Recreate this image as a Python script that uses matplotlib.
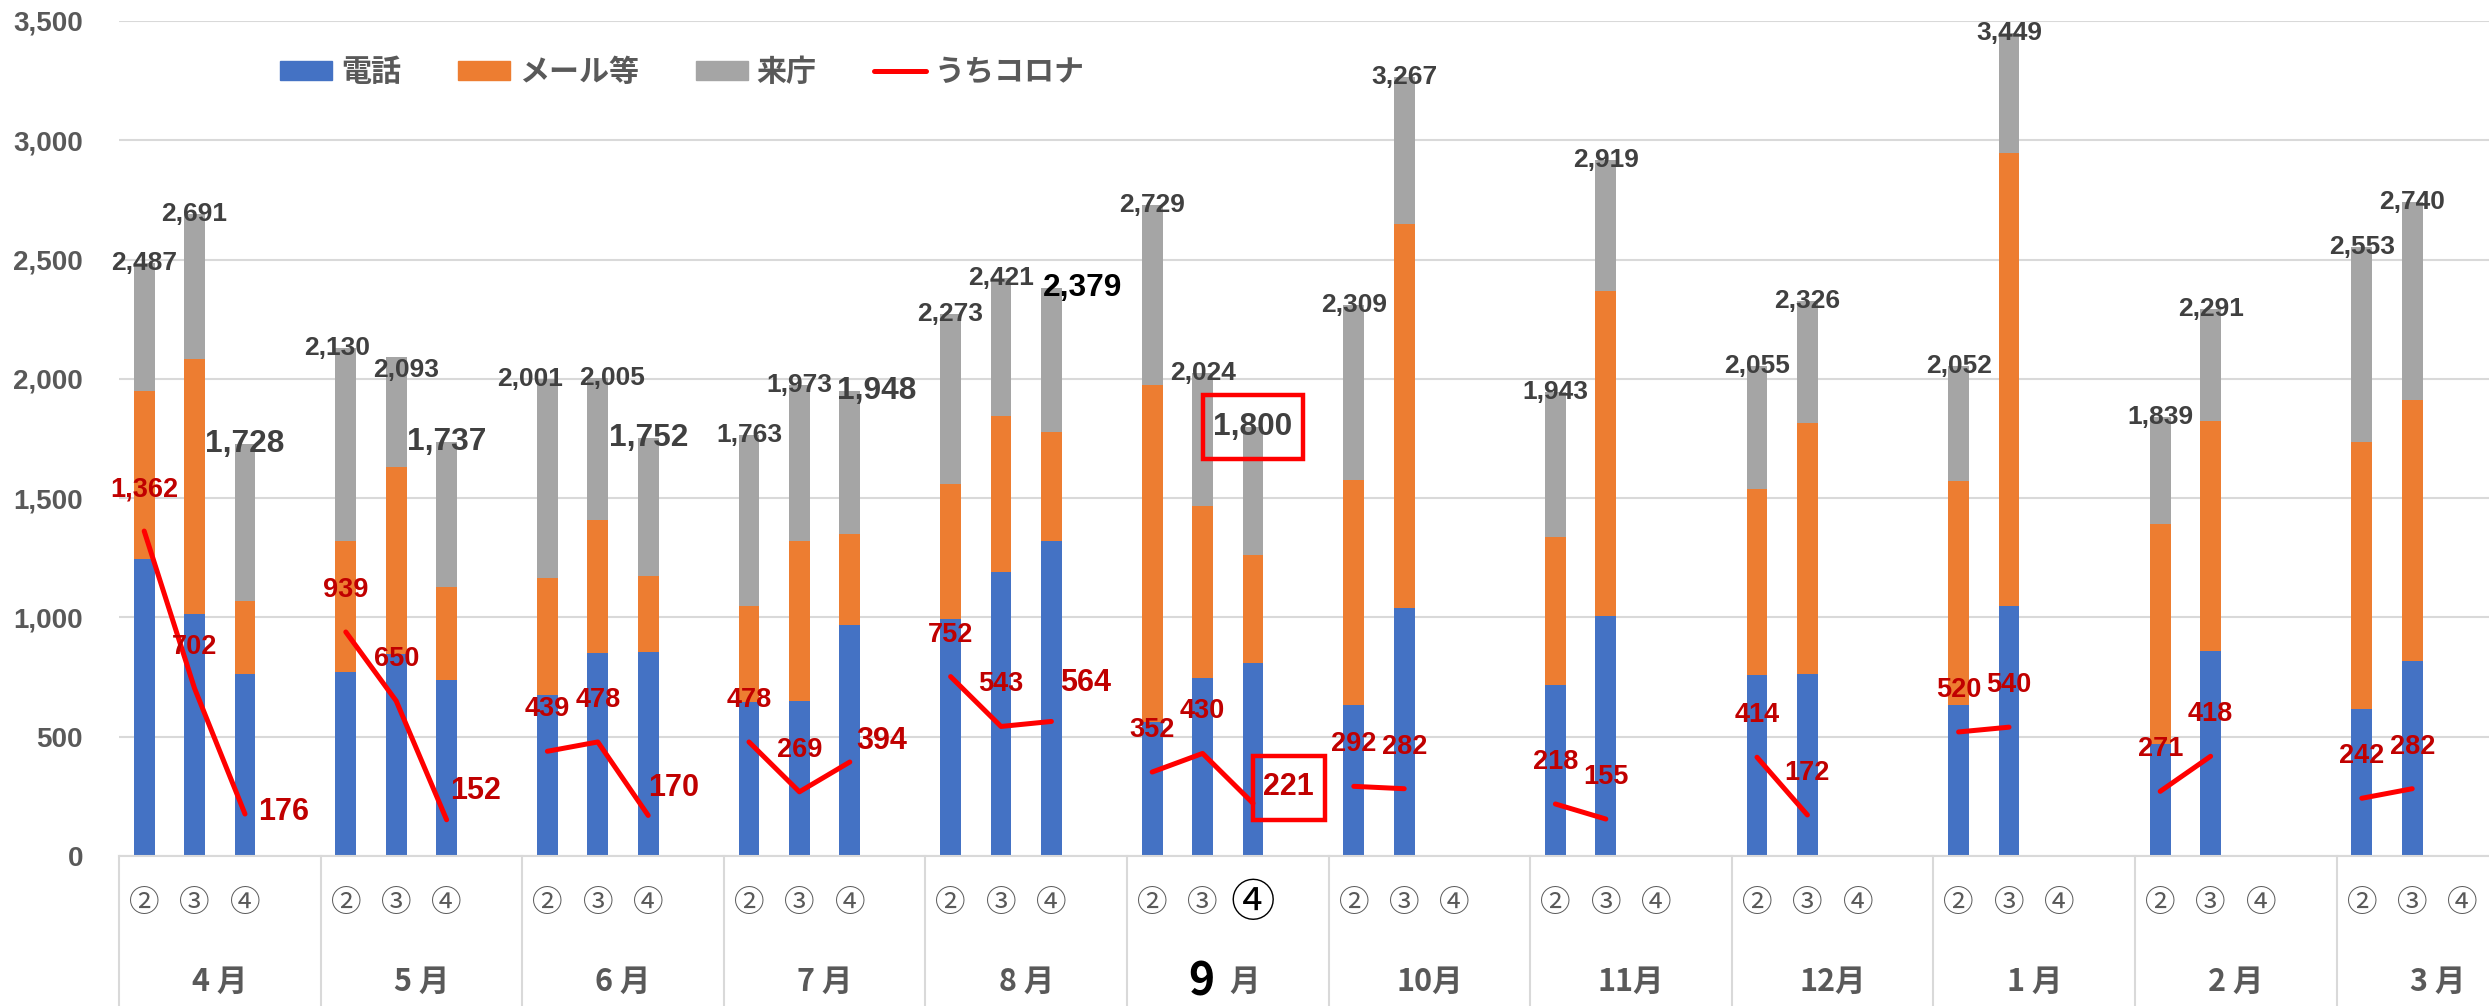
import matplotlib
matplotlib.use("Agg")
import matplotlib.pyplot as plt
import matplotlib.transforms as mtransforms
from matplotlib.patches import Rectangle
from matplotlib.lines import Line2D
from matplotlib.patches import Patch
from matplotlib.ticker import FuncFormatter
import numpy as np

plt.rcParams['font.family'] = ['Liberation Sans', 'Noto Sans CJK JP', 'DejaVu Sans']
JP = ['Noto Sans CJK JP', 'DejaVu Sans']

months = ['4 月', '5 月', '6 月', '7 月', '8 月', '9 月', '10月', '11月', '12月', '1 月', '2 月', '3 月']
subs = ['②', '③', '④']
nan = np.nan

# values per month for ② ③ ④ (nan = no data)
phone = [1245, 1013, 762,  773, 847, 737,  673, 849, 853,  645, 650, 968,
         994, 1189, 1319,  562, 748, 807,  632, 1039, nan,  715, 1004, nan,
         757, 764, nan,  633, 1046, nan,  470, 859, nan,  618, 818, nan]
mail = [706, 1069, 308,  547, 785, 390,  491, 560, 319,  405, 670, 382,
        564, 657, 459,  1413, 718, 453,  946, 1611, nan,  622, 1363, nan,
        782, 1052, nan,  940, 1902, nan,  922, 964, nan,  1119, 1095, nan]
visit = [536, 609, 658,  810, 461, 610,  837, 596, 580,  713, 653, 598,
         715, 575, 601,  754, 558, 540,  731, 617, nan,  606, 552, nan,
         516, 510, nan,  479, 501, nan,  447, 468, nan,  816, 827, nan]
corona = [1362, 702, 176,  939, 650, 152,  439, 478, 170,  478, 269, 394,
          752, 543, 564,  352, 430, 221,  292, 282, nan,  218, 155, nan,
          414, 172, nan,  520, 540, nan,  271, 418, nan,  242, 282, nan]

phone = np.array(phone, float)
mail = np.array(mail, float)
visit = np.array(visit, float)
corona = np.array(corona, float)
total = phone + mail + visit

# x slot: each month has 4 slots (② ③ ④ + empty)
idx = np.arange(36)
xs = (idx // 3) * 4 + (idx % 3)

fig = plt.figure(figsize=(24.89, 10.06), dpi=100)
ax = fig.add_axes([119 / 2489, 150 / 1006, 1 - 119 / 2489, 835 / 1006])

c_blue, c_orange, c_gray = '#4472C4', '#ED7D31', '#A5A5A5'
w = 0.41
ax.bar(xs, phone, w, color=c_blue, zorder=2)
ax.bar(xs, mail, w, bottom=phone, color=c_orange, zorder=2)
ax.bar(xs, visit, w, bottom=phone + mail, color=c_gray, zorder=2)

for m in range(12):
    sl = slice(m * 3, m * 3 + 3)
    ax.plot(xs[sl], corona[sl], color='#FF0000', lw=3.6, solid_capstyle='round', zorder=3)

ax.set_xlim(-0.5, -0.5 + 2370 / 50.4)
ax.set_ylim(0, 3500)
ax.set_yticks(np.arange(0, 3501, 500))
ax.yaxis.set_major_formatter(FuncFormatter(lambda v, p: f'{int(v):,}'))
ax.tick_params(axis='y', length=0, pad=26, labelsize=20, labelcolor='#595959')
for t in ax.get_yticklabels():
    t.set_fontweight('bold')
ax.set_xticks([])
ax.grid(axis='y', color='#D9D9D9', lw=1.5, zorder=0)
for s in ['top', 'right', 'left']:
    ax.spines[s].set_visible(False)
ax.spines['bottom'].set_color('#D9D9D9')
ax.spines['bottom'].set_linewidth(1.5)

px = 3500 / 835  # data units per pixel (vertical)

# total labels (a few nudged sideways like in the original)
shift_x = {3: -9, 4: 10, 6: -17, 7: 14, 11: 27, 14: 31}
shift_y = {4: -13}
for i in range(36):
    if np.isnan(total[i]):
        continue
    k = i % 3
    big = k == 2 and i < 18
    col = '#000000' if i == 14 else '#404040'
    dx = shift_x.get(i, 0) / 50.4
    dy = shift_y.get(i, 0) * px
    ax.text(xs[i] + dx, total[i] + dy, f'{int(total[i]):,}', ha='center', va='center',
            fontsize=22.8 if big else 19, color=col, weight='bold', zorder=5)

# corona labels
d4_dy = [2, 29, 27, 21, 38, 16]
d4_dx = [13, 4, 0, 6, 9, 10]
for i in range(36):
    if np.isnan(corona[i]):
        continue
    k = i % 3
    if k == 2:
        m = i // 3
        ax.text(xs[i] + d4_dx[m] / 50.4, corona[i] + d4_dy[m] * px, f'{int(corona[i]):,}',
                ha='left', va='center', fontsize=22, color='#C00000', weight='bold', zorder=5)
    else:
        ax.text(xs[i], corona[i] + 42 * px, f'{int(corona[i]):,}', ha='center', va='center',
                fontsize=19.5, color='#C00000', weight='bold', zorder=5)

# highlight boxes (Sep ④)
ax.add_patch(Rectangle((xs[17] - 1.0, total[17] - 136), 2.0, 268, fill=False,
                       ec='#FF0000', lw=3.2, zorder=6, clip_on=False))
ax.add_patch(Rectangle((xs[17], 151), 1.43, 268, fill=False,
                       ec='#FF0000', lw=3.2, zorder=6, clip_on=False))

# category axis (two levels)
trans = mtransforms.blended_transform_factory(ax.transData, ax.transAxes)
y_sub = -47 / 835
y_mon = -126 / 835
y_bot = -150 / 835
for m in range(13):
    ax.plot([m * 4 - 0.5] * 2, [0, y_bot], transform=trans, color='#D9D9D9', lw=1.5, clip_on=False)
for m in range(12):
    for k in range(3):
        if m == 5 and k == 2:
            ax.text(m * 4 + k, y_sub, subs[k], transform=trans, ha='center', va='center',
                    fontsize=32, color='#000000', family=JP, clip_on=False)
        else:
            ax.text(m * 4 + k, y_sub, subs[k], transform=trans, ha='center', va='center',
                    fontsize=22, color='#595959', family=JP, clip_on=False)
    cx = m * 4 + 1.5
    if m == 5:
        ax.text(cx - 0.26, y_mon, '9', transform=trans, ha='right', va='center',
                fontsize=32, weight='bold', color='#000000', family=JP, clip_on=False)
        ax.text(cx + 0.04, y_mon, '月', transform=trans, ha='left', va='center',
                fontsize=22, weight='bold', color='#595959', family=JP, clip_on=False)
    else:
        ax.text(cx, y_mon, months[m], transform=trans, ha='center', va='center',
                fontsize=22, weight='bold', color='#595959', family=JP, clip_on=False)

handles = [Patch(color=c_blue), Patch(color=c_orange), Patch(color=c_gray),
           Line2D([0], [0], color='#FF0000', lw=3.6, solid_capstyle='round')]
leg = fig.legend(handles, ['電話', 'メール等', '来庁', 'うちコロナ'], loc='center left',
                 bbox_to_anchor=(280 / 2489, 1 - 72 / 1006), ncol=4, frameon=False,
                 borderpad=0, borderaxespad=0, handlelength=1.73, handleheight=0.63,
                 handletextpad=0.3, columnspacing=1.9,
                 prop={'family': JP, 'size': 21.6, 'weight': 'bold'})
for t in leg.get_texts():
    t.set_color('#595959')

fig.savefig('out.png', dpi=100)
